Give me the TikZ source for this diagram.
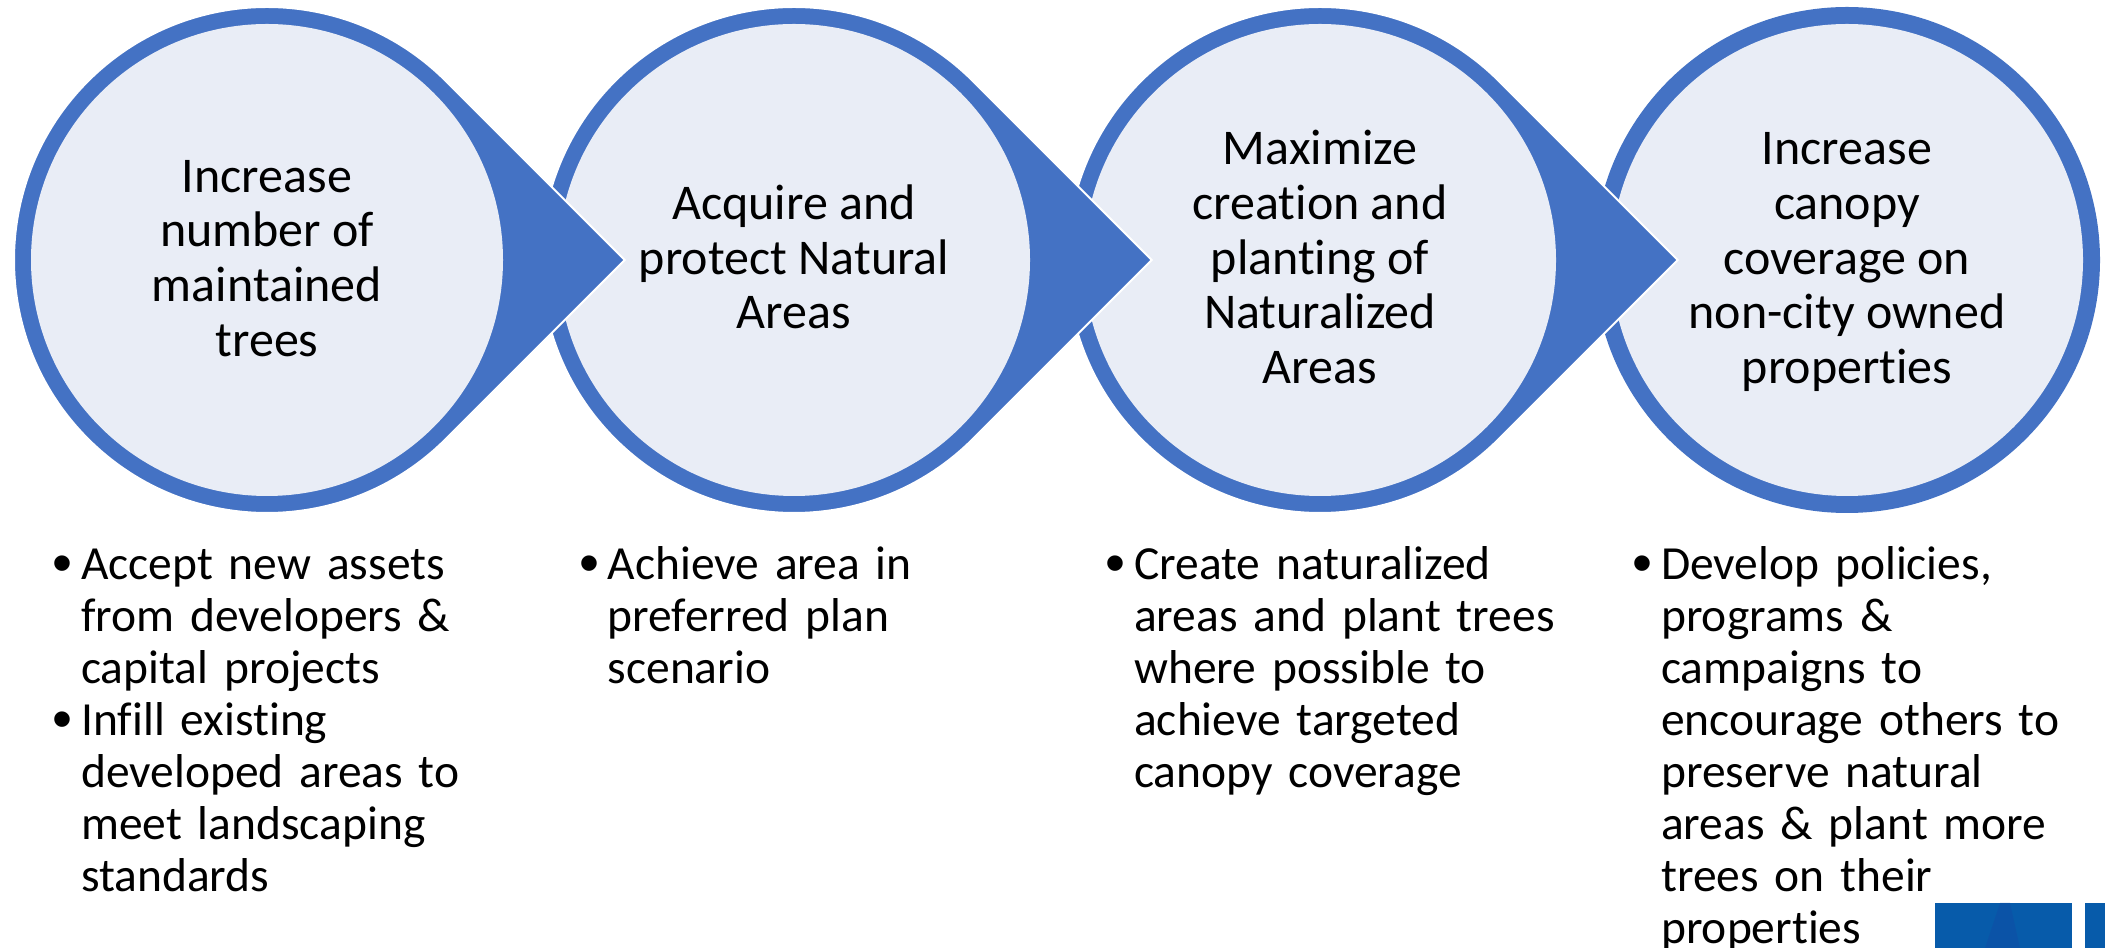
\documentclass[tikz,border=0pt]{standalone}
\usepackage{fontspec}
\setmainfont{Carlito}[Ligatures=NoCommon]
\newfontfamily\bulletfont{Liberation Sans}
\usetikzlibrary{calc}

\definecolor{ringblue}{HTML}{4472C4}
\definecolor{discfill}{HTML}{E9EDF6}
\definecolor{logoblue}{HTML}{075BAA}
\definecolor{logoshade}{HTML}{0F4FA6}

\tikzset{
  stagering/.style={fill=ringblue, draw=white, line width=2pt, line join=miter},
  stagedisc/.style={fill=discfill},
  stagetext/.style={anchor=north, align=center, inner sep=0pt,
    font=\fontsize{50}{54.6}\selectfont},
  notes/.style={anchor=north west, inner sep=0pt, text width=480pt, align=left,
    font=\fontsize{47.5}{52}\selectfont},
}

% one bulleted entry with a hanging indent; \brk breaks a line inside it
\newcommand\brk{\hfil\break}
\newcommand\notebullet{\raisebox{-3.5pt}{\bulletfont\fontsize{57}{0}\selectfont\textbullet}}
\newcommand\noteitem[1]{\hangindent=28.5pt\hangafter=1\noindent\makebox[28.5pt][l]{\notebullet}#1\par}
\newcommand\topstrut{\rule{0pt}{40pt}}

% arrow-circle: disc of radius R with a pointed tip to the right
\newcommand\arrowdisc[2]{%
  \path[stagering] ($(#1)+(#2*1.41421,0)$) -- ($(#1)+(45:#2)$)
    arc[start angle=45, end angle=315, radius=#2] -- cycle;}

\begin{document}
\begin{tikzpicture}[x=1pt,y=1pt]
\useasboundingbox (0,0) rectangle (2105,948);
\fill[white] (0,0) rectangle (2105,948);

\coordinate (c1) at (267,688);
\coordinate (c2) at (794,688);
\coordinate (c3) at (1320,688);
\coordinate (c4) at (1847,688);

% stages are stacked from right to left so each tip lies on the next disc
\fill[ringblue] (c4) circle[radius=253];
\fill[stagedisc] (c4) circle[radius=236];
\arrowdisc{c3}{253}
\fill[stagedisc] (c3) circle[radius=236];
\arrowdisc{c2}{253}
\fill[stagedisc] (c2) circle[radius=236];
\arrowdisc{c1}{253}
\fill[stagedisc] (c1) circle[radius=236];

% stage titles
\node[stagetext] (t1) at (267,795.9) {\topstrut Increase\\number of\\maintained\\trees};
\node[stagetext] (t2) at (794,768.6) {\topstrut Acquire and\\protect Natural\\Areas};
\node[stagetext] (t3) at (1320,823.2) {\topstrut Maximize\\creation and\\planting of\\Naturalized\\Areas};
\node[stagetext] (t4) at (1847,823.2) {\topstrut Increase\\canopy\\coverage on\\non-city owned\\properties};

% actions under each stage
\node[notes] (b1) at (52.5,409) {%
  \noteitem{\topstrut Accept new assets\brk from developers \&\brk capital projects}
  \noteitem{Infill existing\brk developed areas to\brk meet landscaping\brk standards}};
\node[notes] (b2) at (579,409) {%
  \noteitem{\topstrut Achieve area in\brk preferred plan\brk scenario}};
\node[notes] (b3) at (1105.5,409) {%
  \noteitem{\topstrut Create naturalized\brk areas and plant trees\brk where possible to\brk achieve targeted\brk canopy coverage}};
\node[notes] (b4) at (1632.5,409) {%
  \noteitem{\topstrut Develop policies,\brk programs \&\brk campaigns to\brk encourage others to\brk preserve natural\brk areas \& plant more\brk trees on their\brk properties}};

% corner logo, cut by the page edge
\fill[logoblue] (1935,0) rectangle (2072,45);
\fill[logoshade, opacity=0.6] (1985,0) -- (2000,45) -- (2010,45) -- (2020,0) -- cycle;
\fill[logoblue] (2085,0) rectangle (2105,45);
\end{tikzpicture}
\end{document}
